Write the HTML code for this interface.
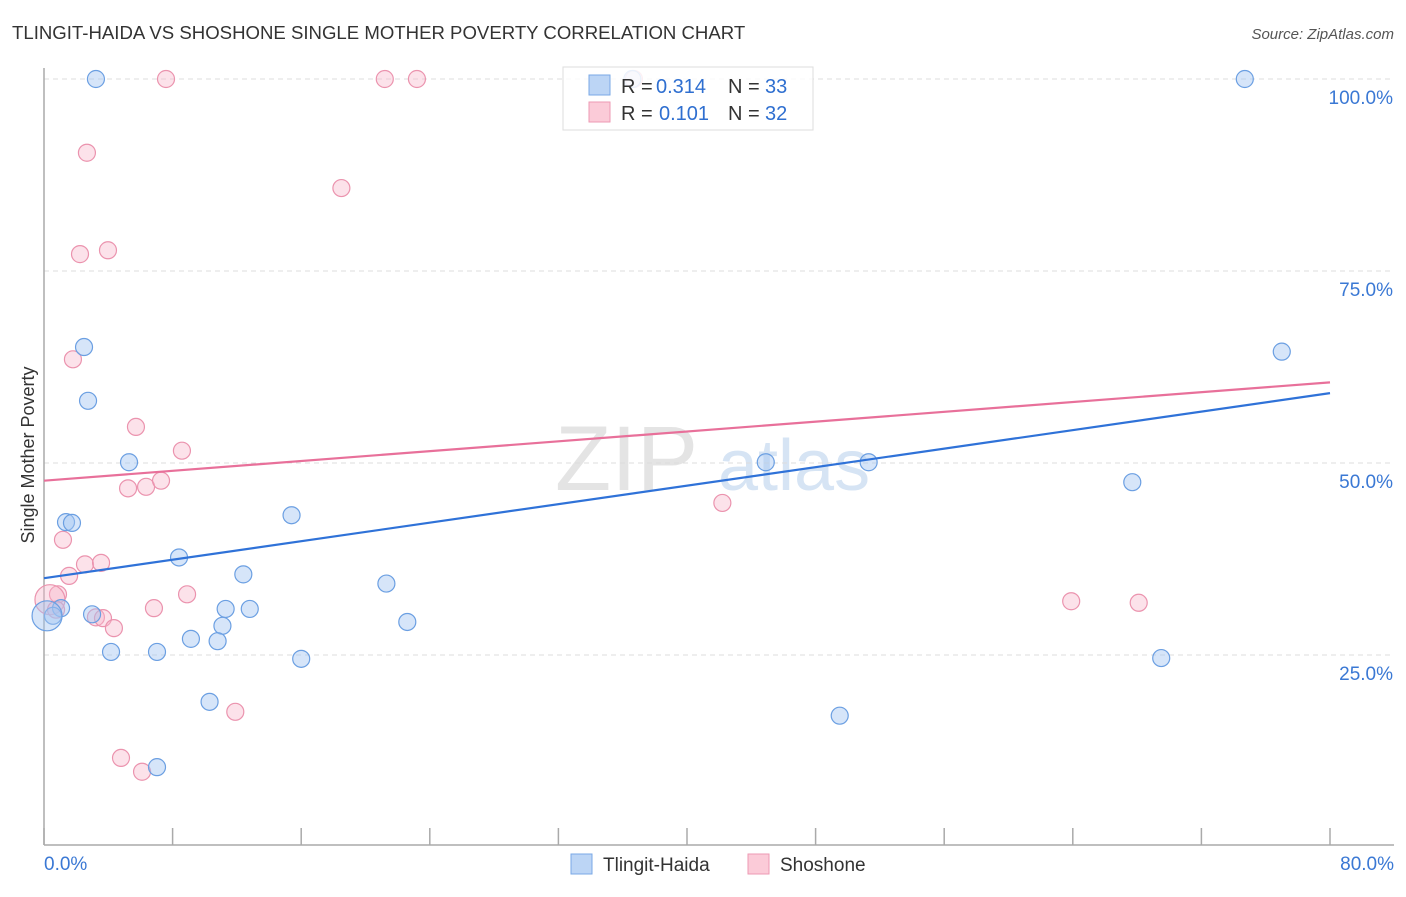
<!DOCTYPE html>
<html><head><meta charset="utf-8"><style>
body{margin:0;background:#fff;font-family:"Liberation Sans",sans-serif;}
svg text{font-family:"Liberation Sans",sans-serif;}
</style></head><body>
<svg width="1406" height="892" xmlns="http://www.w3.org/2000/svg">
<text x="12" y="39" font-size="18.6" fill="#333">TLINGIT-HAIDA VS SHOSHONE SINGLE MOTHER POVERTY CORRELATION CHART</text>
<text x="1394" y="39" font-size="15" fill="#555" text-anchor="end" font-style="italic">Source: ZipAtlas.com</text>
<text x="34" y="455" font-size="18" fill="#333" text-anchor="middle" transform="rotate(-90 34 455)">Single Mother Poverty</text>
<text x="555" y="490" font-size="92" fill="#e4e4e4" font-family="Liberation Serif">ZIP</text>
<text x="718" y="490" font-size="72" fill="#d6e4f4">atlas</text>
<g id="grid"></g>
<g id="axes"></g>
<g id="pts"></g>
<g id="lines"></g>
<g>
<rect x="563" y="67" width="250" height="63" fill="#fff" fill-opacity="0.85" stroke="#ddd"/>
<rect x="589" y="75" width="21" height="20" fill="#bcd5f5" stroke="#7aa8e6"/>
<text x="621" y="93" font-size="20" fill="#333">R =</text>
<text x="656" y="93" font-size="20" fill="#2f6fd0">0.314</text>
<text x="728" y="93" font-size="20" fill="#333">N =</text>
<text x="765" y="93" font-size="20" fill="#2f6fd0">33</text>
<rect x="589" y="102" width="21" height="20" fill="#fbcbd8" stroke="#ee99b3"/>
<text x="621" y="120" font-size="20" fill="#333">R =</text>
<text x="659" y="120" font-size="20" fill="#2f6fd0">0.101</text>
<text x="728" y="120" font-size="20" fill="#333">N =</text>
<text x="765" y="120" font-size="20" fill="#2f6fd0">32</text>
</g>
<g>
<rect x="571" y="854" width="21" height="20" fill="#bcd5f5" stroke="#7aa8e6"/>
<text x="603" y="871" font-size="19" fill="#333">Tlingit-Haida</text>
<rect x="748" y="854" width="21" height="20" fill="#fbcbd8" stroke="#ee99b3"/>
<text x="780" y="871" font-size="19" fill="#333">Shoshone</text>
</g>
</svg>
<script>
const yTicks=[25,50,75,100];
const yTickLabels=["25.0%","50.0%","75.0%","100.0%"];
const xTicks=[0,8,16,24,32,40,48,56,64,72,80];
const blueX=[3.23,36.6,74.7,2.49,2.74,5.29,1.37,1.74,15.4,8.40,12.4,21.3,11.3,12.8,1.06,2.99,0.56,0.19,11.1,22.6,9.14,10.8,4.17,7.03,16.0,10.3,7.03,44.9,51.3,49.5,67.7,69.5,77.0];
const blueY=[100,100,100,65.1,58.1,50.1,42.3,42.2,43.2,37.7,35.5,34.3,31.0,31.0,31.1,30.3,30.1,30.1,28.8,29.3,27.1,26.8,25.4,25.4,24.5,18.9,10.4,50.1,50.1,17.1,47.5,24.6,64.5];
const pinkX=[7.59,21.2,23.2,36.7,2.67,18.5,2.24,3.98,1.80,5.72,8.58,5.23,6.35,7.28,1.18,2.55,3.55,1.56,0.87,0.37,6.84,8.90,3.23,3.67,4.35,11.9,4.79,6.10,42.2,63.9,68.1,0.75];
const pinkY=[100,100,100,100,90.4,85.8,77.2,77.7,63.5,54.7,51.6,46.7,46.9,47.7,40.0,36.8,37.0,35.3,32.9,32.2,31.1,32.9,29.9,29.8,28.5,17.6,11.6,9.8,44.8,32.0,31.8,30.9];
const blueTrend=[35.0,59.1];
const pinkTrend=[47.7,60.5];
const NS="http://www.w3.org/2000/svg";
const X=v=>44+v*16.075, Y=v=>847-v*7.68;
function mk(t,a,p){const e=document.createElementNS(NS,t);for(const k in a)e.setAttribute(k,a[k]);p.appendChild(e);return e;}
const grid=document.getElementById('grid'),axes=document.getElementById('axes'),pts=document.getElementById('pts'),lines=document.getElementById('lines');
yTicks.forEach((t,i)=>{
 const l=mk('line',{x1:44,x2:1394,y1:Y(t),y2:Y(t),stroke:'#ddd','stroke-dasharray':'5,4'},grid);
 
 
 const tx=mk('text',{x:1393,y:Y(t)+25,'font-size':19,fill:'#3a78d4','text-anchor':'end'},grid);
 tx.textContent=yTickLabels[i];
 
 
});
const ax=mk('line',{x1:44,x2:44,y1:68,y2:845,stroke:'#aaa','stroke-width':1.5},axes);


const bx=mk('line',{x1:44,x2:1394,y1:845,y2:845,stroke:'#aaa','stroke-width':1.5},axes);


xTicks.forEach(t=>{
 const k=mk('line',{x1:X(t),x2:X(t),y1:828,y2:845,stroke:'#aaa','stroke-width':1.5},axes);
 
 
});
const xl=mk('text',{x:44,y:870,'font-size':19,fill:'#3a78d4'},axes);xl.textContent='0.0%';


const xr=mk('text',{x:1394,y:870,'font-size':19,fill:'#3a78d4','text-anchor':'end'},axes);xr.textContent='80.0%';


function dots(xs,ys,fill,stroke,name,bigIdx){
 xs.forEach((x,i)=>{
  const c=mk('circle',{cx:X(x),cy:Y(ys[i]),r:i===bigIdx?15:8.5,fill:fill,stroke:stroke,'stroke-width':1.2},pts);
  
  
 });
}
dots(pinkX,pinkY,'rgba(248,182,202,0.4)','#eb93ae','shoshone-point',19);
dots(blueX,blueY,'rgba(164,198,242,0.45)','#6b9fe2','tlingit-haida-point',17);
const bl=mk('line',{x1:X(0),x2:X(80),y1:Y(blueTrend[0]),y2:Y(blueTrend[1]),stroke:'#2f72d8','stroke-width':2.2},lines);


const pl=mk('line',{x1:X(0),x2:X(80),y1:Y(pinkTrend[0]),y2:Y(pinkTrend[1]),stroke:'#e8709a','stroke-width':2.2},lines);


</script>
</body></html>
